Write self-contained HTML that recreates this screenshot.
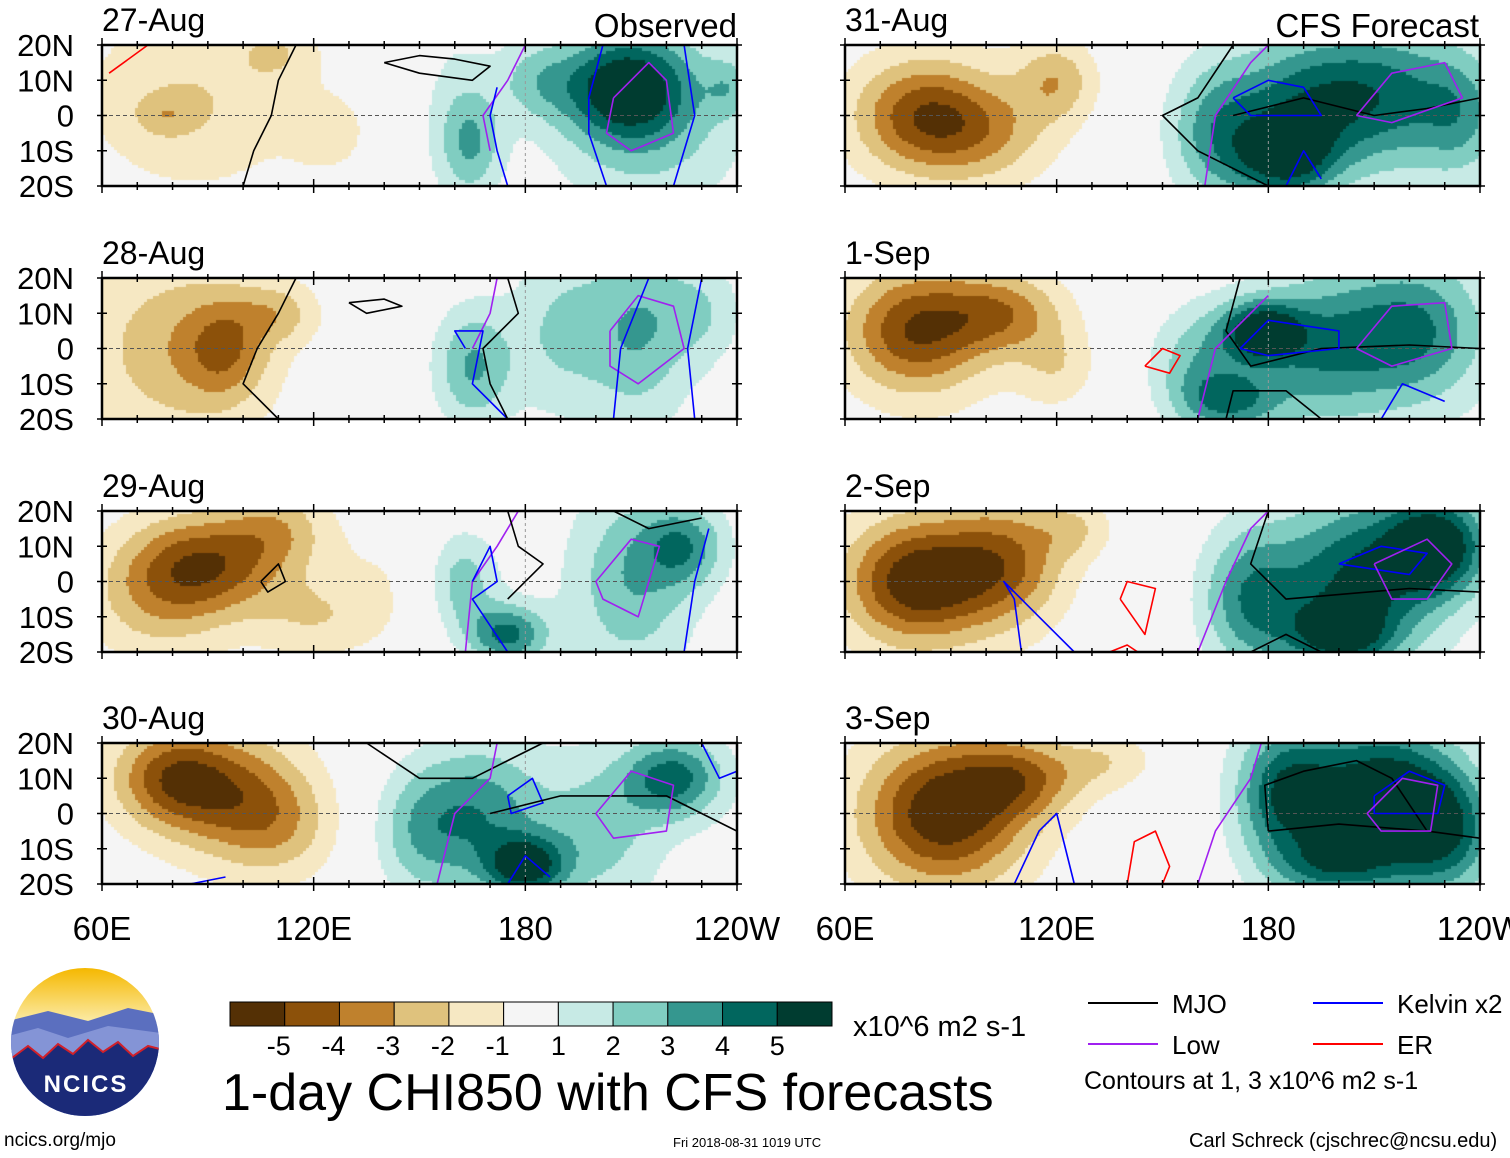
<!DOCTYPE html>
<html><head><meta charset="utf-8">
<style>
body{margin:0;background:#fff;width:1510px;height:1158px;overflow:hidden;position:relative;font-family:"Liberation Sans",sans-serif;}
.t{position:absolute;color:#000;white-space:nowrap;}
canvas{position:absolute;z-index:1;}
</style></head>
<body>
<svg id="svg" width="1510" height="1158" style="position:absolute;left:0;top:0;z-index:2"></svg>
<script>
// ---------- data ----------
const panelDates=["27-Aug","28-Aug","29-Aug","30-Aug","31-Aug","1-Sep","2-Sep","3-Sep"];
const latTicks=["20N","10N","0","10S","20S"];
const lonTicks=["60E","120E","180","120W"];
const lonTickVals=[60,120,180,240];
const cbarLabels=["-5","-4","-3","-2","-1","1","2","3","4","5"];
const cbarColors=["#543005","#8c510a","#bf812d","#dfc27d","#f6e8c3","#f5f5f5","#c7eae5","#80cdc1","#35978f","#01665e","#003c30"];
const levels=[-5,-4,-3,-2,-1,1,2,3,4,5];
// blobs: [lon, lat, amplitude, sigmaLon, sigmaLat]
const blobs=[
 [[85,5,-1.5,22,16],[78,0,-1.2,6,4],[110,18,-1.2,8,6],[125,-5,-1.1,8,8],[165,-8,2.2,6,10],[160,0,1.2,8,20],[183,10,1.8,8,8],[208,8,4.5,12,10],[215,0,2.2,18,18],[238,8,1.6,5,6]],
 [[80,0,-2.2,18,18],[95,0,-2.5,8,10],[110,10,-1.8,8,6],[165,-5,3,8,12],[190,5,1.8,10,16],[212,5,2.5,10,18],[230,10,1.5,8,10]],
 [[90,5,-4,15,10],[75,-5,-2,14,12],[120,-10,-1.5,12,8],[110,15,-2,10,8],[140,0,-0.8,12,16],[162,0,2.5,7,10],[175,-15,4,8,6],[210,0,2.5,12,18],[225,10,3,8,8]],
 [[80,10,-4,12,10],[100,5,-3,14,12],[110,-5,-1.5,12,10],[150,-5,2.5,10,14],[168,0,3.2,12,14],[180,-15,4.8,8,6],[200,-5,2,12,14],[222,10,4,10,8]],
 [[82,0,-4,14,11],[120,10,-2.4,8,8],[100,-5,-2,14,10],[165,-5,3,10,14],[185,-12,4.8,10,8],[190,5,3.2,15,12],[215,5,3.3,16,14],[235,0,2,8,12]],
 [[80,5,-4.5,14,12],[105,10,-3,12,8],[120,-5,-1.5,8,8],[160,-5,2.5,10,12],[178,5,4.8,8,6],[195,0,3.2,14,14],[222,5,3.5,14,14],[170,-15,3,10,6]],
 [[80,0,-5.2,14,12],[105,5,-3.5,12,12],[125,15,-1.5,8,6],[175,-5,3.5,10,14],[205,0,4.5,15,16],[228,10,5.5,10,10],[200,-15,3.5,10,6]],
 [[88,0,-5.3,16,14],[110,10,-3,12,8],[135,15,-1.5,10,6],[185,5,4.5,10,14],[212,5,5.5,14,14],[230,-5,4,10,12],[200,-15,3,12,6]]
];
// broad background fields per panel: [westAmp, eastAmp]
const background=[[-0.5,0.4],[-0.5,0.4],[-0.4,0.4],[-0.5,0.5],[-0.5,0.6],[-0.5,0.6],[-0.6,0.6],[-0.6,0.6]];
// contours: [type, [lon,lat,...]]
const contours=[
 [["mjo",[100,-20,103,-10,108,0,110,10,115,20]],["mjo",[140,15,150,17,160,16,170,14,165,10,150,12,140,15]],["low",[170,-10,168,0,175,10,180,20]],["kelvin",[175,-20,172,-10,170,0,172,8]],["kelvin",[203,-20,198,-5,198,5,202,20]],["low",[205,5,215,15,220,10,222,-5,210,-10,203,-5,205,5]],["kelvin",[222,-20,228,0,225,20]],["er",[73,20,62,12]]],
 [["mjo",[110,-20,100,-10,104,0,110,10,115,20]],["mjo",[130,13,140,14,145,12,135,10,130,13]],["low",[165,0,170,10,172,20]],["kelvin",[163,0,160,5,168,5,165,-10,175,-20]],["mjo",[175,20,178,10,168,0,170,-10,175,-20]],["low",[204,5,212,15,222,12,225,0,212,-10,204,-5,204,5]],["kelvin",[205,-20,207,0,215,20]],["kelvin",[228,-20,226,0,230,20]]],
 [["mjo",[105,0,110,5,112,0,107,-3,105,0]],["low",[163,-20,165,0,172,10,178,20]],["kelvin",[165,0,170,10,172,0,165,-5,175,-20]],["mjo",[175,20,178,10,185,5,175,-5]],["low",[200,0,210,12,218,10,212,-10,202,-5,200,0]],["kelvin",[225,-20,228,0,232,15]],["mjo",[205,20,215,15,230,18]]],
 [["mjo",[135,20,150,10,165,10,175,15,185,20]],["low",[155,-20,160,0,170,10,172,20]],["kelvin",[175,5,182,10,185,3,176,0,175,5]],["kelvin",[175,-20,180,-12,187,-18]],["mjo",[170,0,190,5,220,5,240,-5]],["low",[200,0,210,12,222,8,220,-5,205,-7,200,0]],["kelvin",[230,20,235,10,240,12]],["kelvin",[85,-20,95,-18]]],
 [["mjo",[170,20,160,5,150,0,160,-10,180,-20]],["mjo",[170,0,190,5,210,0,225,2,240,5]],["low",[162,-20,165,0,175,15,180,20]],["kelvin",[170,5,180,10,190,8,195,0,175,0,170,5]],["low",[205,0,215,12,230,15,235,5,215,-2,205,0]],["kelvin",[185,-20,190,-10,195,-18]]],
 [["mjo",[168,-20,170,-12,185,-12,195,-20]],["mjo",[172,20,168,5,175,-5,195,0,220,1,240,0]],["low",[160,-20,165,0,180,15]],["kelvin",[172,0,180,8,200,5,200,0,180,-2,172,0]],["low",[205,0,215,12,230,13,232,0,215,-5,205,0]],["kelvin",[212,-20,218,-10,230,-15]],["er",[145,-5,150,0,155,-2,152,-7,145,-5]]],
 [["mjo",[180,20,175,5,185,-5,220,-2,240,-3]],["mjo",[175,-20,185,-15,195,-20]],["low",[160,-20,168,0,175,15,180,20]],["kelvin",[110,-20,108,-5,105,0,115,-10,125,-20]],["kelvin",[200,5,212,10,225,8,220,2,200,5]],["low",[210,5,225,12,232,5,225,-5,215,-5,210,5]],["er",[138,-5,140,0,148,-2,145,-15,138,-5]],["er",[135,-20,140,-18,143,-20]]],
 [["mjo",[180,-5,179,8,190,12,205,15,215,10,225,-5,240,-7]],["mjo",[180,-5,200,-3,225,-5]],["low",[160,-20,165,-5,175,10,178,20]],["kelvin",[108,-20,115,-5,120,0,125,-20]],["kelvin",[210,5,220,12,230,8,228,0,210,0,210,5]],["low",[208,0,218,10,228,8,226,-5,212,-5,208,0]],["er",[140,-20,142,-8,148,-5,152,-15,150,-20]]]
];
// ---------- layout ----------
const colX=[102,845], rowY=[45,278,511,743], PW=635, PH=141;
const svg=document.getElementById('svg');
const NS='http://www.w3.org/2000/svg';
function el(tag,attrs,parent){const e=document.createElementNS(NS,tag);for(const k in attrs)e.setAttribute(k,attrs[k]);(parent||svg).appendChild(e);return e;}
function xOf(x0,lon){return x0+(lon-60)/180*PW;}
function yOf(y0,lat){return y0+(20-lat)/40*PH;}
function colorFor(v){let i=0;while(i<levels.length&&v>levels[i])i++;return cbarColors[i];}
const lineCol={mjo:"#000",low:"#a020f0",kelvin:"#0000ff",er:"#ff0000"};

panelDates.forEach((d,p)=>{
  const c=p<4?0:1, r=p%4, x0=colX[c], y0=rowY[r];
  const cv=document.createElement('canvas');cv.width=PW;cv.height=PH;
  cv.style.left=x0+'px';cv.style.top=y0+'px';
  
  
  document.body.appendChild(cv);
  const ctx=cv.getContext('2d');const s=3;
  for(let py=0;py<PH;py+=s)for(let px=0;px<PW;px+=s){
    const lon=60+(px+1.5)/PW*180, lat=20-(py+1.5)/PH*40;
    let v=background[p][0]*Math.exp(-((lon-90)**2)/(2*35*35))+background[p][1]*Math.exp(-((lon-210)**2)/(2*35*35));
    blobs[p].forEach(b=>{v+=b[2]*Math.exp(-((lon-b[0])**2)/(2*b[3]*b[3])-((lat-b[1])**2)/(2*b[4]*b[4]));});
    ctx.fillStyle=colorFor(v);ctx.fillRect(px,py,s,s);
  }
  const g=el('g',{});
  
  
  el('line',{x1:x0,x2:x0+PW,y1:yOf(y0,0),y2:yOf(y0,0),stroke:"#555","stroke-dasharray":"4,3","stroke-width":1},g);
  el('line',{x1:xOf(x0,180),x2:xOf(x0,180),y1:y0,y2:y0+PH,stroke:"#999","stroke-dasharray":"3,3","stroke-width":1},g);
  contours[p].forEach(ct=>{
    const pts=[];for(let i=0;i<ct[1].length;i+=2)pts.push(xOf(x0,ct[1][i]).toFixed(1)+','+yOf(y0,ct[1][i+1]).toFixed(1));
    const pl=el('polyline',{points:pts.join(' '),fill:'none',stroke:lineCol[ct[0]],'stroke-width':1.6,'stroke-linejoin':'round'},g);
    
    
  });
  el('rect',{x:x0,y:y0,width:PW,height:PH,fill:'none',stroke:'#000','stroke-width':2.5},g);
  for(let lon=60;lon<=240;lon+=10){const x=xOf(x0,lon);const L=(lon%60==0)?7:4;
    el('line',{x1:x,x2:x,y1:y0-L,y2:y0+L,stroke:'#000','stroke-width':1.5},g);
    el('line',{x1:x,x2:x,y1:y0+PH-L,y2:y0+PH+L,stroke:'#000','stroke-width':1.5},g);}
  for(let lat=-20;lat<=20;lat+=10){const y=yOf(y0,lat);
    el('line',{x1:x0-5,x2:x0+5,y1:y,y2:y,stroke:'#000','stroke-width':1.5},g);
    el('line',{x1:x0+PW-5,x2:x0+PW+5,y1:y,y2:y,stroke:'#000','stroke-width':1.5},g);}
  const t=el('text',{x:x0,y:y0-14,'font-size':32,'font-family':'Liberation Sans'},g);t.textContent=d;
  
  
  if(c==0){latTicks.forEach((lt,i)=>{const tt=el('text',{x:74,y:y0+i*PH/4+11,'font-size':31,'text-anchor':'end','font-family':'Liberation Sans'},g);tt.textContent=lt;
    
    });}
});
[0,1].forEach(c=>{lonTicks.forEach((lt,i)=>{const tt=el('text',{x:xOf(colX[c],lonTickVals[i]),y:940,'font-size':33,'text-anchor':'middle','font-family':'Liberation Sans'});tt.textContent=lt;
  
  });});
let t1=el('text',{x:737,y:37,'font-size':33,'text-anchor':'end','font-family':'Liberation Sans'});t1.textContent="Observed";

let t2=el('text',{x:1479,y:37,'font-size':33,'text-anchor':'end','font-family':'Liberation Sans'});t2.textContent="CFS Forecast";

// colorbar
const cb=el('g',{});
const bw=(832-230)/11;
cbarColors.forEach((col,i)=>{el('rect',{x:230+i*bw,y:1002,width:bw,height:24,fill:col,stroke:'#000','stroke-width':1},cb);});
cbarLabels.forEach((l,i)=>{const tt=el('text',{x:230+(i+1)*bw+(i<5?-6:0),y:1055,'font-size':27,'text-anchor':'middle','font-family':'Liberation Sans'},cb);tt.textContent=l;});
// legend
const lg=el('g',{});
[["MJO","#000",1088,1003],["Low","#a020f0",1088,1044],["Kelvin x2","#0000ff",1313,1003],["ER","#ff0000",1313,1044]].forEach(e=>{
  el('line',{x1:e[2],x2:e[2]+70,y1:e[3],y2:e[3],stroke:e[1],'stroke-width':2},lg);
  const tt=el('text',{x:e[2]+84,y:e[3]+10,'font-size':26,'font-family':'Liberation Sans'},lg);tt.textContent=e[0];});
</script>
<div class="t" style="left:853px;top:1011px;font-size:29px">x10^6 m2 s-1</div>
<div class="t" style="left:222px;top:1063px;font-size:52px">1-day CHI850 with CFS forecasts</div>
<div class="t" style="left:1084px;top:1067px;font-size:25px">Contours at 1, 3 x10^6 m2 s-1</div>
<div class="t" style="left:4px;top:1130px;font-size:19px">ncics.org/mjo</div>
<div class="t" style="left:673px;top:1135px;font-size:13px">Fri 2018-08-31 1019 UTC</div>
<div class="t" style="left:1189px;top:1130px;font-size:20px">Carl Schreck (cjschrec@ncsu.edu)</div>
<svg width="160" height="160" style="position:absolute;left:8px;top:966px">
<defs><linearGradient id="sk" x1="0" y1="0" x2="0" y2="1"><stop offset="0" stop-color="#f5b800"/><stop offset="0.35" stop-color="#fbe9a0"/><stop offset="0.45" stop-color="#8fa3d8"/><stop offset="1" stop-color="#2b3f8f"/></linearGradient>
<clipPath id="cc"><circle cx="77" cy="76" r="74"/></clipPath></defs>
<circle cx="77" cy="76" r="74" fill="url(#sk)"/>
<g clip-path="url(#cc)"><path d="M0 55 L40 45 L80 55 L120 42 L160 50 L160 160 L0 160Z" fill="#5b6fbf"/>
<path d="M0 70 L30 62 L60 72 L100 60 L160 68 L160 160 L0 160Z" fill="#8494d6"/>
<path d="M0 95 L20 80 L35 92 L50 78 L65 88 L80 74 L95 86 L110 76 L125 90 L140 80 L160 85 L160 160 L0 160Z" fill="#1b2a78" stroke="#d0202a" stroke-width="2"/></g>
<text x="78" y="126" font-size="24" font-weight="bold" fill="#fff" text-anchor="middle" font-family="Liberation Sans" letter-spacing="2">NCICS</text>
</svg>
</body></html>
